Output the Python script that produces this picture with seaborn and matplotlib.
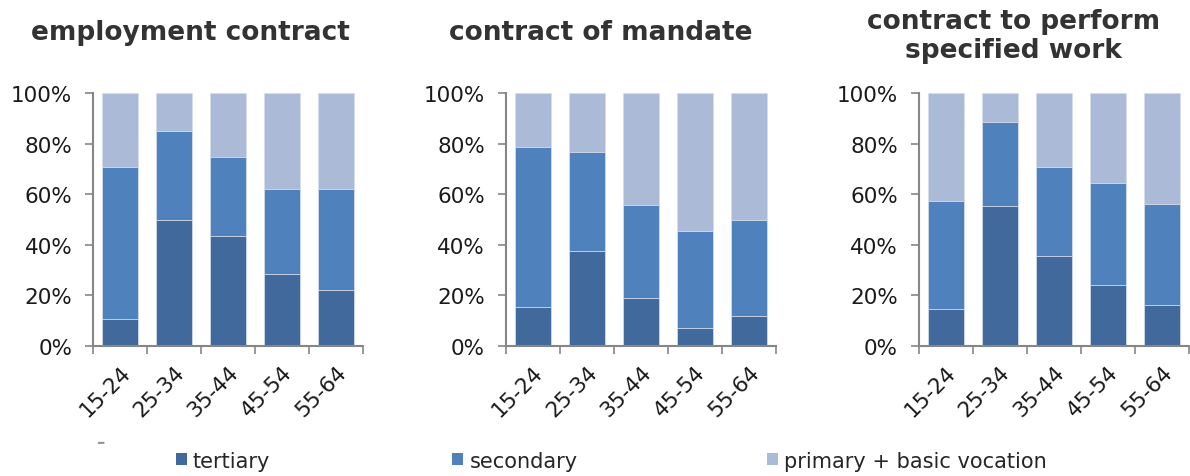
import matplotlib
matplotlib.use("Agg")
import matplotlib.pyplot as plt
import seaborn as sns
import pandas as pd
from matplotlib.patches import Patch
from matplotlib.ticker import FixedLocator

sns.set_theme(style="white")
plt.rcParams["font.family"] = ["DejaVu Sans"]

age_groups = ["15-24", "25-34", "35-44", "45-54", "55-64"]
panel_titles = ["employment contract", "contract of mandate",
                "contract to perform\nspecified work"]

# shares (%) of each education level by age group
tertiary = [
    [10.8, 49.8, 43.6, 28.5, 22.1],
    [15.3, 37.7, 19.1, 7.2, 12.0],
    [14.6, 55.3, 35.7, 24.2, 16.3],
]
secondary = [
    [60.1, 35.2, 31.1, 33.7, 40.2],
    [63.6, 39.1, 36.6, 38.1, 37.8],
    [42.6, 33.2, 35.3, 40.4, 39.7],
]
primary_basic_vocation = [
    [29.1, 15.0, 25.3, 37.8, 37.7],
    [21.1, 23.2, 44.3, 54.7, 50.2],
    [42.8, 11.5, 29.0, 35.4, 44.0],
]

series_names = ["tertiary", "secondary", "primary + basic vocation"]
colors = ["#41699B", "#4F81BD", "#AABAD7"]
axis_grey = "#868686"
tick_fs = 15.5

fig = plt.figure(figsize=(11.9, 4.77), dpi=100)
lefts = [0.0782, 0.425, 0.772]
width, bottom, height = 0.227, 0.2725, 0.530
title_x = [0.1597, 0.505, 0.852]
title_y = [0.931, 0.931, 0.924]

for i in range(3):
    ax = fig.add_axes([lefts[i], bottom, width, height])
    df = pd.DataFrame({
        "age": age_groups,
        "t": tertiary[i],
        "s": secondary[i],
        "p": primary_basic_vocation[i],
    })
    df["ts"] = df["t"] + df["s"]
    df["tsp"] = df["ts"] + df["p"]
    # stacked layers, drawn from the full height down
    for col, c in zip(["tsp", "ts", "t"], colors[::-1]):
        sns.barplot(data=df, x="age", y=col, color=c, width=0.67,
                    edgecolor="#D5DEEC", linewidth=0.6, saturation=1,
                    ax=ax, order=age_groups)
    ax.set_xlim(-0.5, 4.5)
    ax.set_ylim(0, 100)
    ax.set_xlabel("")
    ax.set_ylabel("")
    ax.set_yticks([0, 20, 40, 60, 80, 100])
    ax.set_yticklabels([f"{v}%" for v in range(0, 101, 20)], fontsize=tick_fs,
                       color="#1a1a1a")
    ax.set_xticks(range(5))
    ax.set_xticklabels(age_groups, rotation=45, ha="right",
                       rotation_mode="anchor", fontsize=tick_fs,
                       color="#1a1a1a")
    ax.xaxis.set_minor_locator(FixedLocator([k - 0.5 for k in range(6)]))
    ax.tick_params(axis="x", which="major", length=0, pad=11)
    ax.tick_params(axis="x", which="minor", length=6, width=1.2,
                   color=axis_grey, direction="out", bottom=True)
    ax.tick_params(axis="y", length=6, width=1.2, color=axis_grey,
                   direction="out", left=True, pad=9)
    for side in ["top", "right"]:
        ax.spines[side].set_visible(False)
    for side in ["left", "bottom"]:
        ax.spines[side].set_color(axis_grey)
        ax.spines[side].set_linewidth(1.5)
    fig.text(title_x[i], title_y[i], panel_titles[i], fontsize=19,
             fontweight="bold", color="#333333", ha="center", va="center",
             linespacing=1.15)

fig.text(0.081, 0.071, "–", fontsize=12, fontweight="bold", color="#999999",
         ha="left", va="center")

# one legend entry per column, each anchored at its own position
legend_x = [0.1475, 0.380, 0.6445]
for name, c, lx in zip(series_names, colors, legend_x):
    fig.legend([Patch(facecolor=c, edgecolor="none")], [name],
               loc="center left", bbox_to_anchor=(lx, 0.032),
               frameon=False, fontsize=15, handlelength=0.53,
               handleheight=0.53, handletextpad=0.3, borderpad=0,
               borderaxespad=0)

fig.savefig("out.png", dpi=100)
